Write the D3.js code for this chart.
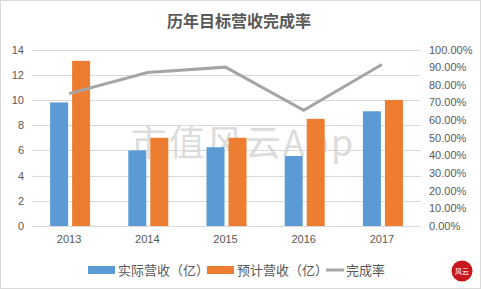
<!DOCTYPE html>
<html>
<head>
<meta charset="utf-8">
<script src="https://cdn.jsdelivr.net/npm/d3@7"></script>
<style>
  body { margin: 0; background: #fff; }
  svg { display: block; font-family: "Noto Sans CJK SC", "Liberation Sans", sans-serif; }
</style>
</head>
<body>
<svg id="chart" width="481" height="289"></svg>
<script>
const years = ["2013", "2014", "2015", "2016", "2017"];
const actual = [9.8, 6.0, 6.25, 5.55, 9.1];
const planned = [13.1, 7.0, 7.0, 8.5, 10.0];
const rate = [0.75, 0.87, 0.90, 0.655, 0.915];
const leftTicks = [0, 2, 4, 6, 8, 10, 12, 14];
const rightTicks = [0, 0.1, 0.2, 0.3, 0.4, 0.5, 0.6, 0.7, 0.8, 0.9, 1.0];

const svg = d3.select("#chart");
const width = +svg.attr("width");
const height = +svg.attr("height");
const m = { top: 49.5, right: 60, bottom: 63, left: 30 };

svg.append("rect")
  .attr("x", 0.5).attr("y", 0.5)
  .attr("width", width - 1).attr("height", height - 1)
  .attr("fill", "#fff").attr("stroke", "#d9d9d9");

const x = d3.scaleBand().domain(years).range([m.left, width - m.right]);
const y = d3.scaleLinear().domain([0, 14]).range([height - m.bottom, m.top]);
const y2 = d3.scaleLinear().domain([0, 1]).range([height - m.bottom, m.top]);

// gridlines
svg.append("g")
  .selectAll("line")
  .data(leftTicks)
  .enter()
  .append("line")
  .attr("x1", m.left + 2).attr("x2", width - m.right)
  .attr("y1", d => Math.round(y(d)) + 0.5)
  .attr("y2", d => Math.round(y(d)) + 0.5)
  .attr("stroke", "#d9d9d9");

// watermark
svg.append("text")
  .attr("x", 243).attr("y", 156)
  .attr("text-anchor", "middle")
  .attr("font-size", "36px")
  .attr("letter-spacing", "2px")
  .attr("fill", "#d6d6d6")
  .attr("fill-opacity", 0.85)
  .text("市值风云App");

// left axis
const leftAxis = svg.append("g")
  .attr("transform", `translate(${m.left - 6},0)`)
  .call(d3.axisLeft(y).tickValues(leftTicks).tickSize(0).tickPadding(0));
leftAxis.select(".domain").remove();
leftAxis.selectAll("text")
  .attr("font-size", "11px").attr("fill", "#595959")
  .attr("font-family", "Liberation Sans, sans-serif");

// right axis
const rightAxis = svg.append("g")
  .attr("transform", `translate(${width - m.right + 8},0)`)
  .call(d3.axisRight(y2).tickValues(rightTicks).tickSize(0).tickPadding(0)
    .tickFormat(d => (d * 100).toFixed(2) + "%"));
rightAxis.select(".domain").remove();
rightAxis.selectAll("text")
  .attr("font-size", "11px").attr("fill", "#595959")
  .attr("font-family", "Liberation Sans, sans-serif");

// bottom labels
const bottomAxis = svg.append("g")
  .attr("transform", `translate(0,${height - m.bottom})`)
  .call(d3.axisBottom(x).tickSize(0).tickPadding(9));
bottomAxis.select(".domain").remove();
bottomAxis.selectAll("text")
  .attr("font-size", "11px").attr("fill", "#595959")
  .attr("font-family", "Liberation Sans, sans-serif");

// bars
const barW = 18, gap = 4;
const cx = d => x(d) + x.bandwidth() / 2 + 1;

svg.append("g")
  .selectAll("rect")
  .data(actual)
  .enter()
  .append("rect")
  .attr("x", (d, i) => cx(years[i]) - gap / 2 - barW)
  .attr("y", d => y(d))
  .attr("width", barW)
  .attr("height", d => y(0) - y(d))
  .attr("fill", "#5b9bd5");

svg.append("g")
  .selectAll("rect")
  .data(planned)
  .enter()
  .append("rect")
  .attr("x", (d, i) => cx(years[i]) + gap / 2)
  .attr("y", d => y(d))
  .attr("width", barW)
  .attr("height", d => y(0) - y(d))
  .attr("fill", "#ed7d31");

// completion rate line
const line = d3.line()
  .x((d, i) => x(years[i]) + x.bandwidth() / 2)
  .y(d => y2(d));

svg.append("path")
  .datum(rate)
  .attr("d", line)
  .attr("fill", "none")
  .attr("stroke", "#a5a5a5")
  .attr("stroke-width", 3);

// title
svg.append("text")
  .attr("x", 239).attr("y", 27)
  .attr("text-anchor", "middle")
  .attr("font-size", "16px")
  .attr("font-weight", "bold")
  .attr("fill", "#595959")
  .text("历年目标营收完成率");

// legend
const legend = svg.append("g").attr("font-size", "13px").attr("fill", "#595959");
const legendItems = [
  { label: "实际营收（亿）", color: "#5b9bd5", type: "rect", x: 88 },
  { label: "预计营收（亿）", color: "#ed7d31", type: "rect", x: 207 },
  { label: "完成率", color: "#a5a5a5", type: "line", x: 326 }
];
legendItems.forEach(it => {
  if (it.type === "rect") {
    legend.append("rect")
      .attr("x", it.x).attr("y", 266)
      .attr("width", 27).attr("height", 8)
      .attr("fill", it.color);
    legend.append("text")
      .attr("x", it.x + 30).attr("y", 275)
      .text(it.label);
  } else {
    legend.append("line")
      .attr("x1", it.x).attr("x2", it.x + 18)
      .attr("y1", 270).attr("y2", 270)
      .attr("stroke", it.color).attr("stroke-width", 3);
    legend.append("text")
      .attr("x", it.x + 20).attr("y", 275)
      .text(it.label);
  }
});

// logo
svg.append("circle")
  .attr("cx", 462).attr("cy", 271).attr("r", 10.5)
  .attr("fill", "#c8161d");
svg.append("text")
  .attr("x", 462).attr("y", 273.5)
  .attr("text-anchor", "middle")
  .attr("font-size", "7px")
  .attr("fill", "#fff")
  .text("风云");
</script>
</body>
</html>
